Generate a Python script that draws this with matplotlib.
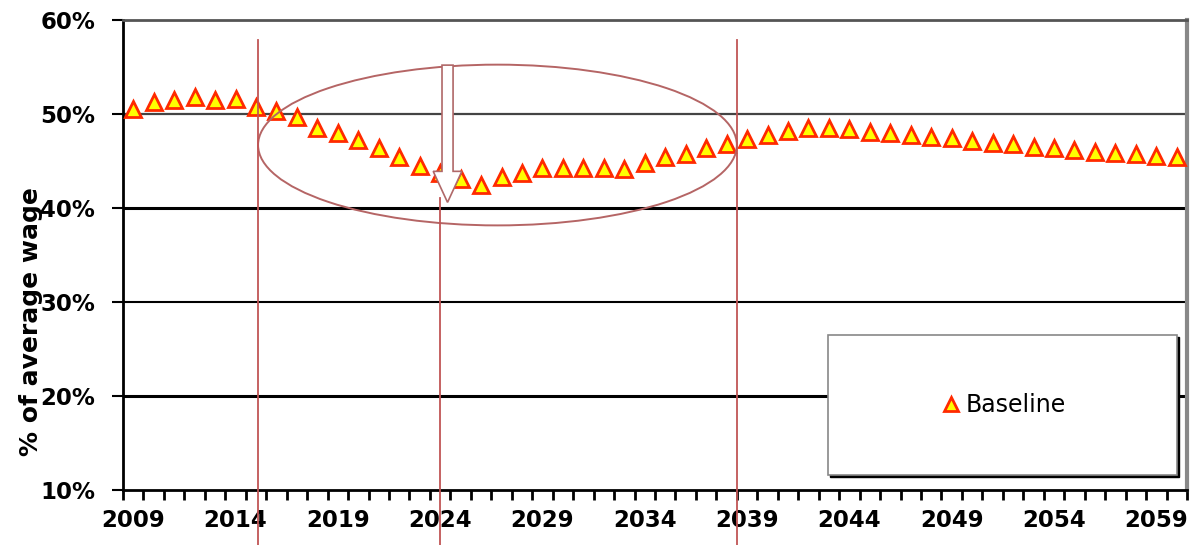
import matplotlib
matplotlib.use('Agg')
import matplotlib.pyplot as plt
import numpy as np
from matplotlib.patches import Ellipse, Rectangle, FancyArrow

years = list(range(2009, 2061))
baseline = [50.5, 51.3, 51.5, 51.8, 51.5, 51.6, 50.7, 50.3, 49.7, 48.5,
            48.0, 47.2, 46.4, 45.4, 44.5, 43.7, 43.1, 42.4, 43.3, 43.7,
            44.3, 44.3, 44.3, 44.3, 44.2, 44.8, 45.4, 45.7, 46.4, 46.8,
            47.3, 47.8, 48.2, 48.5, 48.5, 48.4, 48.1, 48.0, 47.8, 47.6,
            47.4, 47.1, 46.9, 46.8, 46.5, 46.4, 46.2, 46.0, 45.9, 45.7,
            45.5, 45.4]
label_years = list(range(2009, 2060, 5))
y_ticks = [10, 20, 30, 40, 50, 60]
red_lines = [(2015.1, 57.9), (2024.0, 41.1), (2038.5, 57.9)]

fig = plt.figure(figsize=(11.99, 5.45), dpi=100)
ax = fig.add_axes([0.1026, 0.1009, 0.8874, 0.8624])

# grid lines
grid_styles = {20: ('black', 2.2), 30: ('black', 1.5), 40: ('black', 2.2), 50: ('#444444', 1.6)}
for v, (c, lw) in grid_styles.items():
    ax.axhline(v, color=c, lw=lw, zorder=1)

ax.plot(years, baseline, linestyle='none', marker='^', markersize=12,
        markerfacecolor='#FFFF00', markeredgecolor='#FF2A00', markeredgewidth=2,
        zorder=3, label='Baseline')

ax.set_xlim(2008.5, 2060.5)
ax.set_ylim(10, 60)
ax.set_yticks(y_ticks)
ax.set_yticklabels([f'{v}%' for v in y_ticks])
ax.set_xticks(label_years)
ax.set_xticklabels([str(y) for y in label_years])
ax.set_xticks(np.arange(2008.5, 2061, 1), minor=True)
ax.tick_params(axis='x', which='major', length=0, pad=14)
ax.tick_params(axis='x', which='minor', length=7, width=2, direction='out', color='black')
ax.tick_params(axis='y', length=8, width=1.5, pad=12)
for lab in ax.get_xticklabels() + ax.get_yticklabels():
    lab.set_fontfamily('DejaVu Sans')
    lab.set_fontweight('bold')
    lab.set_fontsize(16.5)

ax.spines['left'].set_linewidth(2)
ax.spines['bottom'].set_linewidth(2)
ax.spines['top'].set_color('#555555')
ax.spines['top'].set_linewidth(2)
ax.spines['right'].set_color('#888888')
ax.spines['right'].set_linewidth(3)

# annotations
ell = Ellipse((2026.8, 46.7), 23.4, 17.1, fill=False, edgecolor='#B56565', lw=1.4, zorder=4)
ax.add_patch(ell)
for x, top in red_lines:
    ax.plot([x, x], [top, 4.0], color='#C05555', lw=1.3, zorder=5, clip_on=False)
arr = FancyArrow(2024.36, 55.2, 0, -14.6, width=0.54, head_width=1.4, head_length=3.3,
                 length_includes_head=True, facecolor='white', edgecolor='#B06868', lw=1.2, zorder=6)
ax.add_patch(arr)

# legend box
ax.add_patch(Rectangle((0.6646, 0.028), 0.328, 0.298, transform=ax.transAxes,
                       facecolor='black', edgecolor='black', zorder=7))
ax.add_patch(Rectangle((0.6626, 0.032), 0.328, 0.298, transform=ax.transAxes,
                       facecolor='white', edgecolor='#888888', lw=1.2, zorder=8))
leg = ax.legend(loc='center', bbox_to_anchor=(0.8266, 0.181), frameon=False,
                prop={'family': 'DejaVu Sans', 'size': 17}, handletextpad=0.1,
                handlelength=1.0, markerscale=0.8)
leg.set_zorder(9)

fig.text(0.026, 0.41, '% of average wage', rotation=90, va='center', ha='center',
         fontfamily='DejaVu Sans', fontweight='bold', fontsize=18)

fig.savefig('out.png', dpi=100)
